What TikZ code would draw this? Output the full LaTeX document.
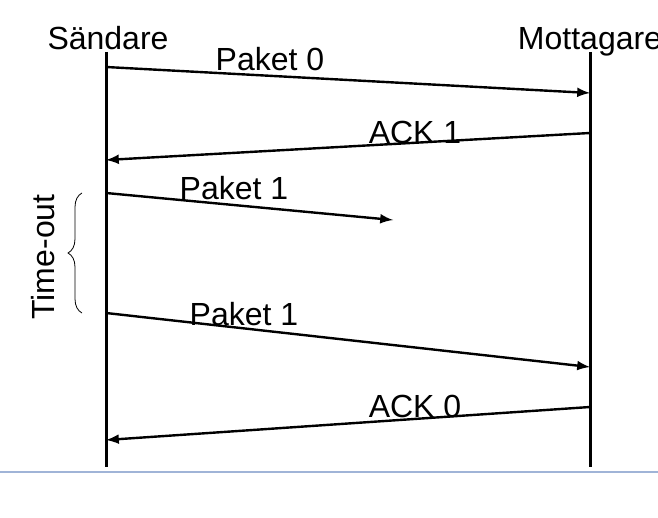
\documentclass[tikz,border=0pt]{standalone}
\usepackage{fontspec}
\setmainfont{Liberation Sans}
\usetikzlibrary{decorations.pathreplacing}

\tikzset{
  lifeline/.style={line width=1.5pt},
  msg/.style={line width=1.2pt, -latex},
  lbl/.style={anchor=base, inner sep=0pt, font=\fontsize{16}{19}\selectfont}
}

\begin{document}
\begin{tikzpicture}[x=0.5pt, y=-0.5pt]
        \useasboundingbox (0,0) rectangle (658,518);
        % lifelines
        \coordinate (s0) at (106,52);  \coordinate (s1) at (106,467);
        \coordinate (r0) at (590,52);  \coordinate (r1) at (590,467);
        \draw[lifeline] (s0) -- (s1);
        \draw[lifeline] (r0) -- (r1);
        \node[lbl] (sender) at (108,50) {Sändare};
        \node[lbl] (receiver) at (590,50) {Mottagare};
        % messages
        \coordinate (p0a) at (106,67);   \coordinate (p0b) at (590,93);
        \coordinate (a1a) at (590,133);  \coordinate (a1b) at (106,160);
        \coordinate (p1a) at (106,193);  \coordinate (p1b) at (393,220);
        \coordinate (p2a) at (106,313);  \coordinate (p2b) at (590,367);
        \coordinate (a0a) at (590,407);  \coordinate (a0b) at (106,440);
        \draw[msg] (p0a) -- (p0b);
        \draw[msg] (a1a) -- (a1b);
        \draw[msg] (p1a) -- (p1b);
        \draw[msg] (p2a) -- (p2b);
        \draw[msg] (a0a) -- (a0b);
        \node[lbl] (paket0) at (270,71) {Paket 0};
        \node[lbl] (ack1) at (415,144) {ACK 1};
        \node[lbl] (paket1a) at (234,200) {Paket 1};
        \node[lbl] (paket1b) at (244,325) {Paket 1};
        \node[lbl] (ack0) at (415,417) {ACK 0};
        % time-out
        \draw[line width=0.4pt, decorate, decoration={brace, amplitude=7}] (82,313) -- (82,193);
        \node[rotate=90, inner sep=0pt, font=\fontsize{16}{19}\selectfont] (timeout) at (43,257) {Time-out};
        \draw[color={rgb,255:red,160;green,180;blue,215}, line width=0.6pt] (0,472) -- (658,472);
\end{tikzpicture}
\end{document}
